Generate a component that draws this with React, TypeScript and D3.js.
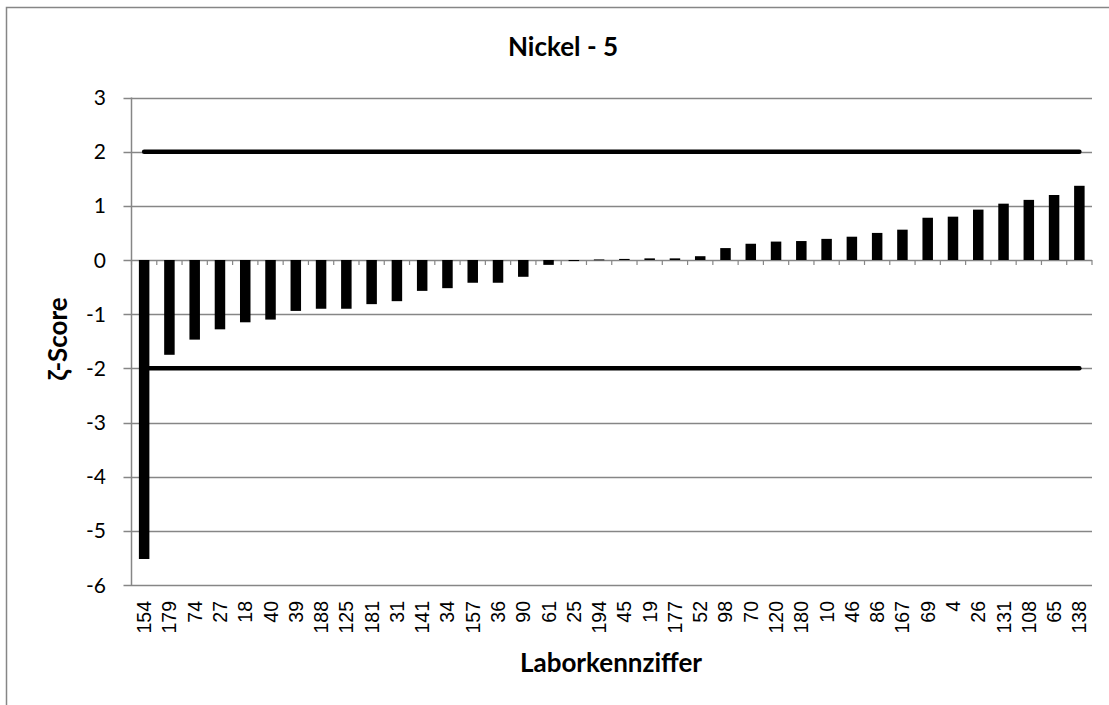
import React from "react";
import * as d3 from "d3";

const labs: string[] = ["154","179","74","27","18","40","39","188","125","181","31","141","34","157","36","90","61","25","194","45","19","177","52","98","70","120","180","10","46","86","167","69","4","26","131","108","65","138"];
const scores: number[] = [-5.52,-1.75,-1.47,-1.28,-1.15,-1.1,-0.94,-0.9,-0.9,-0.815,-0.76,-0.57,-0.52,-0.42,-0.42,-0.31,-0.09,-0.02,0.01,0.02,0.03,0.03,0.07,0.22,0.3,0.34,0.35,0.39,0.43,0.5,0.56,0.78,0.8,0.93,1.04,1.11,1.2,1.37];
const yTicks: number[] = [3,2,1,0,-1,-2,-3,-4,-5,-6];
const limits: number[] = [2,-2];

const W = 1109, H = 705;
const L = 131.5, R = 1092, T = 97.5, B = 585;
const grid = "#868686";
const calib = "Lato, 'Open Sans', sans-serif";

export default function App() {
  const x = d3.scaleBand<string>().domain(labs).range([L, R]).paddingInner(0).paddingOuter(0);
  const y = d3.scaleLinear().domain([-6, 3]).range([B, T]);
  const bw = 10.5;
  const cx = (c: string) => (x(c) as number) + x.bandwidth() / 2;
  const y0 = y(0);
  const boundaries = d3.range(labs.length + 1).map((i) => L + i * x.bandwidth());
  return (
    <svg width={W} height={H} style={{ position: "absolute", left: 0, top: 0 }}>
      <rect x={0} y={0} width={W} height={H} fill="#fff" />
      <rect x={6.5} y={7.5} width={W + 10} height={H + 10} fill="none" stroke={grid} strokeWidth={1.5} />
      <text x={563} y={56} textAnchor="middle" fontFamily={calib} fontWeight="bold" fontSize={26}>Nickel - 5</text>
      {yTicks.map((t) => (
        <g key={t}>
          <line x1={L - 8} x2={R} y1={Math.round(y(t)) + 0.5} y2={Math.round(y(t)) + 0.5} stroke={grid} strokeWidth={1.5} />
          <text x={106} y={y(t) + 7.5} textAnchor="end" fontFamily={calib} fontSize={21}>{t}</text>
        </g>
      ))}
      <line x1={L} x2={L} y1={T} y2={B} stroke={grid} strokeWidth={1.5} />
      {boundaries.map((bx, i) => (
        <line key={i} x1={bx} x2={bx} y1={y0} y2={y0 + 5} stroke={grid} strokeWidth={1.2} />
      ))}
      {labs.map((c, i) => {
        const v = scores[i];
        return (
          <rect key={c} x={cx(c) - bw / 2} width={bw} y={Math.min(y(v), y0)} height={Math.max(Math.abs(y(v) - y0), 0.8)} fill="#000" />
        );
      })}
      {limits.map((v) => (
        <line key={v} x1={cx(labs[0])} x2={cx(labs[labs.length - 1])} y1={y(v)} y2={y(v)} stroke="#000" strokeWidth={4.5} strokeLinecap="round" />
      ))}
      {labs.map((c) => (
        <text key={c} transform={`translate(${cx(c) + 7},${601}) rotate(-90)`} textAnchor="end" fontFamily="'Liberation Sans', Arial, sans-serif" fontSize={19.5}>{c}</text>
      ))}
      <text x={611} y={672} textAnchor="middle" fontFamily={calib} fontWeight="bold" fontSize={26}>Laborkennziffer</text>
      <text transform={`translate(67,${339}) rotate(-90)`} textAnchor="middle" fontFamily={calib} fontWeight="bold" fontSize={26}>ζ-Score</text>
    </svg>
  );
}
